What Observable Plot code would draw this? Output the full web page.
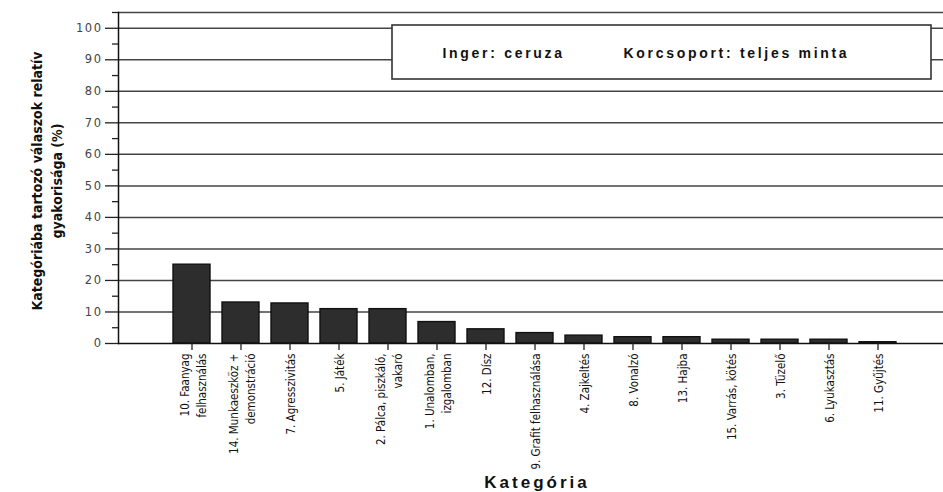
<!DOCTYPE html>
<html>
<head>
<meta charset="utf-8">
<script src="https://cdn.jsdelivr.net/npm/d3@7"></script>
<script src="https://cdn.jsdelivr.net/npm/@observablehq/plot@0.6"></script>
<style>
  html, body { margin: 0; padding: 0; background: #fff; }
  #chart { position: relative; width: 943px; height: 492px; }
</style>
</head>
<body>
<div id="chart"></div>
<script>
const categories = [
  "10. Faanyag\nfelhasználás",
  "14. Munkaeszköz +\ndemonstráció",
  "7. Agresszivitás",
  "5. Játék",
  "2. Pálca, piszkáló,\nvakaró",
  "1. Unalomban,\nizgalomban",
  "12. Dísz",
  "9. Grafit felhasználása",
  "4. Zajkeltés",
  "8. Vonalzó",
  "13. Hajba",
  "15. Varrás, kötés",
  "3. Tüzelő",
  "6. Lyukasztás",
  "11. Gyűjtés"
];
const values = [25.0, 13.0, 12.7, 10.9, 10.9, 6.8, 4.5, 3.3, 2.5, 2.0, 2.0, 1.2, 1.2, 1.2, 0.4];
const yTicks = [0, 10, 20, 30, 40, 50, 60, 70, 80, 90, 100];
const yMinorTicks = [5, 15, 25, 35, 45, 55, 65, 75, 85, 95, 105];
const gridValues = [10, 20, 30, 40, 50, 60, 70, 80, 90, 100, 105];
const yTitle = "Kategóriába tartozó válaszok relatív\ngyakorisága (%)";
const xTitle = "Kategória";
const legendItems = ["Inger: ceruza", "Korcsoport: teljes minta"];

const data = categories.map((c, i) => ({cat: c, value: values[i]}));
const narrow = "'Liberation Sans Narrow', 'DejaVu Sans Condensed', 'Arial Narrow', sans-serif";

const legendBox = () => {
  const g = d3.create("svg:g");
  g.append("rect")
    .attr("x", 392).attr("y", 25).attr("width", 539).attr("height", 54)
    .attr("fill", "#fff").attr("stroke", "#333").attr("stroke-width", 1.6);
  return g.node();
};

const chart = Plot.plot({
  width: 943,
  height: 492,
  marginLeft: 118,
  marginRight: 0,
  marginTop: 12,
  marginBottom: 149,
  style: {fontFamily: "'Liberation Sans', Arial, sans-serif", background: "#fff"},
  x: {domain: categories, insetLeft: 36, insetRight: 28, padding: 0.245, label: null, axis: null},
  y: {domain: [0, 105], label: null, axis: null},
  marks: [
    Plot.ruleY(gridValues, {stroke: "#444", strokeWidth: 1.5}),
    Plot.barY(data, {x: "cat", y: "value", fill: "#2d2d2d", stroke: "#111", strokeWidth: 1.4}),
    Plot.ruleY([0], {stroke: "#111", strokeWidth: 1.5}),
    Plot.frame({anchor: "left", stroke: "#111", strokeWidth: 1.5}),
    Plot.axisY({ticks: yTicks, tickSize: 13, tickPadding: 3, fontSize: 11.5, fill: "#444", stroke: "#222", strokeWidth: 1.3, label: null, fontFamily: "'DejaVu Sans', Verdana, sans-serif"}),
    Plot.axisY({ticks: yMinorTicks, tickSize: 6, text: null, stroke: "#222", strokeWidth: 1.3, label: null}),
    Plot.axisX({tickSize: 7, text: null, stroke: "#222", strokeWidth: 1.3, label: null}),
    Plot.text(data, {
      x: "cat", y: 0, text: "cat", rotate: -90, textAnchor: "end", lineAnchor: "middle",
      dy: 10, fontSize: 11.5, lineHeight: 1.45, fontFamily: narrow, fill: "#111"
    }),
    Plot.text([yTitle], {
      frameAnchor: "left", dx: -73, dy: 3, rotate: -90, textAnchor: "middle", lineAnchor: "middle",
      fontSize: 14, fontWeight: "bold", lineHeight: 1.4, fontFamily: narrow, fill: "#111",
      className: "ytitle"
    }),
    Plot.text([xTitle], {
      frameAnchor: "bottom", dx: 6, dy: 144, fontSize: 17, fontWeight: "bold",
      fill: "#111", className: "xtitle"
    }),
    legendBox,
    Plot.text([legendItems[0]], {
      frameAnchor: "top-left", dx: 442 - 118, dy: 36, textAnchor: "start",
      fontSize: 14, fontWeight: "bold", fill: "#111", className: "leg"
    }),
    Plot.text([legendItems[1]], {
      frameAnchor: "top-left", dx: 623 - 118, dy: 36, textAnchor: "start",
      fontSize: 14, fontWeight: "bold", fill: "#111", className: "leg"
    })
  ]
});
d3.select(chart).selectAll(".xtitle text").style("letter-spacing", "3px");
d3.select(chart).selectAll(".leg text").style("letter-spacing", "2.7px");
d3.select(chart).selectAll(".ytitle text").style("font-stretch", "condensed");
d3.select(chart).selectAll("[aria-label='y-axis tick label'] text").style("letter-spacing", "1.5px");
document.getElementById("chart").appendChild(chart);
</script>
</body>
</html>
